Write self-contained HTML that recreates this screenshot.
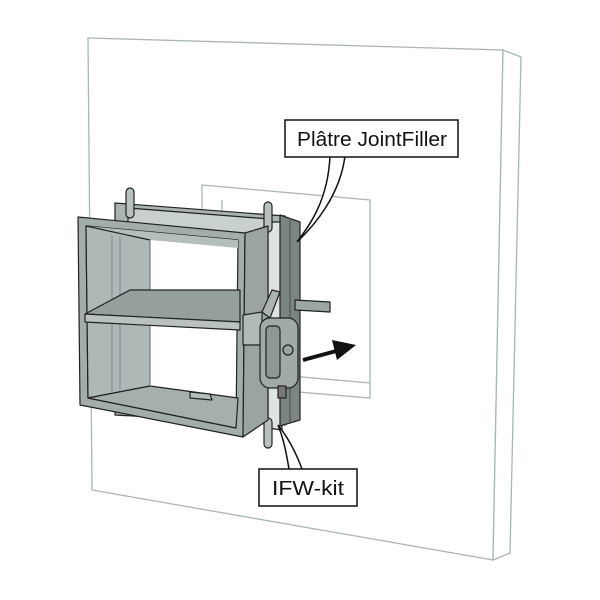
<!DOCTYPE html>
<html><head><meta charset="utf-8"><style>html,body{margin:0;padding:0;background:#fff}svg{display:block}</style></head>
<body>
<svg width="600" height="600" viewBox="0 0 600 600" xmlns="http://www.w3.org/2000/svg">
<g fill="#fff" stroke="#a9b6b6" stroke-width="1.3">
<polygon points="88,38 503,50 493,560 92,490"/>
<polygon points="503,50 521,57 510,553 493,560"/>
<polygon points="202,185 370,200 370,398 202,384"/>
<polyline points="222,200 222,370 370,383" fill="none"/>
</g>
<g stroke="#222" stroke-width="1.2" stroke-linejoin="round">
<!-- back casing -->
<polygon points="115,203 285,216 285,425 115,415" fill="#aab4b2"/>
<polygon points="128,208 270,219 270,240 128,230" fill="#c9d1d0"/>
<polygon points="268,222 282,222 282,430 268,428" fill="#dfe4e3"/>
<polygon points="280,215 300,222 300,420 280,426" fill="#7a8584"/>
<line x1="290" y1="218" x2="290" y2="423" stroke="#555"/>
<!-- lugs -->
<rect x="126" y="188" width="8" height="30" rx="4" fill="#b8c1c0"/>
<rect x="264" y="202" width="8" height="30" rx="4" fill="#b8c1c0"/>
<rect x="264" y="418" width="8" height="30" rx="4" fill="#b8c1c0"/>
<!-- blade extension right -->
<polygon points="295,300 330,302 330,312 295,310" fill="#9ca6a5"/>
<!-- front frame -->
<polygon points="78,217 245,233 243,437 80,405" fill="#a3adac"/>
<polygon points="86,226 238,240 236,428 88,398" fill="#fff"/>
<polygon points="86,226 238,240 238,248 150,240 100,236" fill="#b4bebd" stroke="none"/>
<polygon points="86,226 150,240 150,386 88,398" fill="#aeb8b7"/>
<polygon points="88,398 150,386 238,398 236,428" fill="#a5afae"/>
<line x1="112" y1="236" x2="112" y2="392" stroke="#889" stroke-width="1"/>
<line x1="120" y1="237" x2="120" y2="390" stroke="#889" stroke-width="1"/>
<line x1="150" y1="240" x2="150" y2="386" stroke="#889" stroke-width="1"/>
<polygon points="190,392 210,394 212,400 190,398" fill="#b4bebd"/>
<polygon points="245,233 268,226 268,420 243,437" fill="#9aa4a3"/>
<!-- blade -->
<polygon points="85,314 130,290 240,290 240,322" fill="#959f9e"/>
<polygon points="85,314 240,322 240,330 85,322" fill="#b9c2c1"/>
<!-- actuator bracket -->
<polygon points="243,315 262,312 262,345 243,345" fill="#b0bab9"/>
<polygon points="262,312 272,290 280,292 270,318" fill="#aab4b3"/>
<rect x="260" y="318" width="38" height="70" rx="10" fill="#a0aaa9"/>
<rect x="266" y="326" width="14" height="52" rx="4" fill="#8e9897"/>
<circle cx="288" cy="350" r="5" fill="#9aa3a2"/>
<rect x="278" y="386" width="8" height="12" fill="#777"/>
</g>
<!-- arrow -->
<line x1="303" y1="360" x2="340" y2="350" stroke="#111" stroke-width="4"/>
<polygon points="332,340 356,345 337,360" fill="#111"/>
<!-- callouts -->
<g stroke="#111" stroke-width="1.5" fill="#fff">
<path d="M330,156 C328,200 310,225 297,242 C315,225 340,195 345,156"/>
<rect x="285" y="120" width="173" height="37"/>
<path d="M289,469 C285,445 282,435 278,425 C286,435 295,450 302,469"/>
<rect x="259" y="469" width="98" height="37"/>
</g>
<g font-family="Liberation Sans, sans-serif" font-size="20.5" fill="#111">
<text x="372" y="146" text-anchor="middle" textLength="150" lengthAdjust="spacingAndGlyphs">Plâtre JointFiller</text>
<text x="308" y="495" text-anchor="middle" textLength="72" lengthAdjust="spacingAndGlyphs">IFW-kit</text>
</g>
</svg>
</body></html>
